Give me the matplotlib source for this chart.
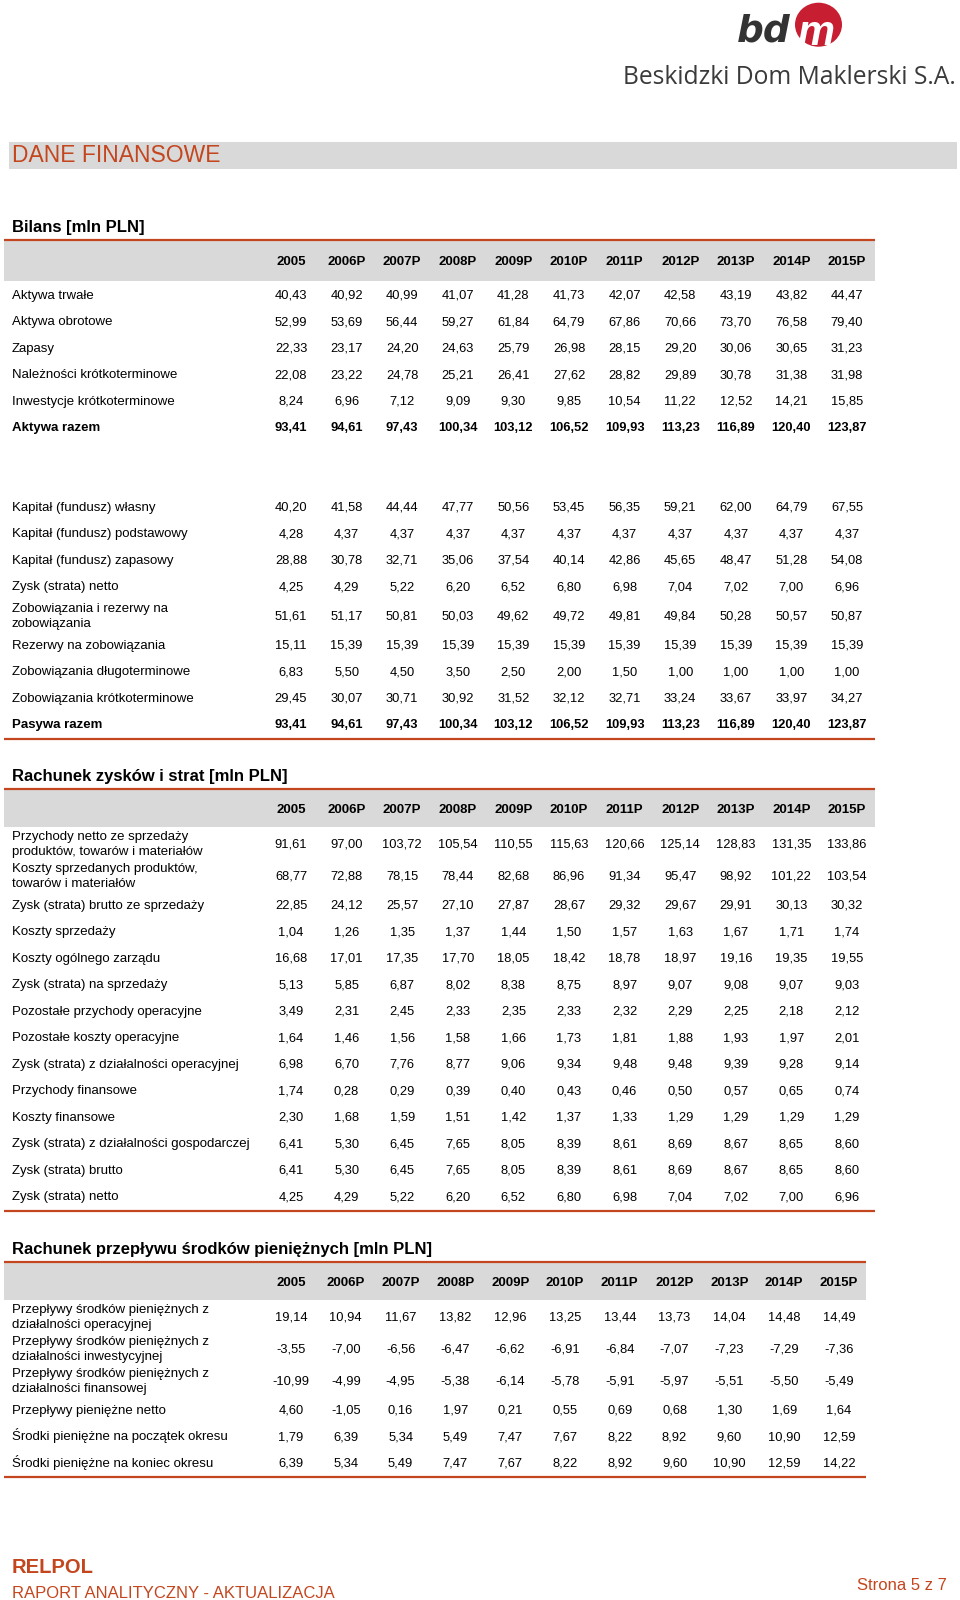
import matplotlib
matplotlib.use("Agg")
import matplotlib.pyplot as plt
from matplotlib.patches import Rectangle, Ellipse

plt.rcParams["font.family"] = ["Liberation Sans", "DejaVu Sans"]

ORANGE = "#c4461e"
GREY = "#d9d9d9"

# --- dane ---
years = ["2005", "2006P", "2007P", "2008P", "2009P", "2010P",
         "2011P", "2012P", "2013P", "2014P", "2015P"]

bilans_labels = [
    "Aktywa trwałe", "Aktywa obrotowe", "Zapasy", "Należności krótkoterminowe",
    "Inwestycje krótkoterminowe", "Aktywa razem", "", "",
    "Kapitał (fundusz) własny", "Kapitał (fundusz) podstawowy",
    "Kapitał (fundusz) zapasowy", "Zysk (strata) netto",
    "Zobowiązania i rezerwy na\nzobowiązania", "Rezerwy na zobowiązania",
    "Zobowiązania długoterminowe", "Zobowiązania krótkoterminowe", "Pasywa razem",
]
bilans_values = [
    [40.43, 40.92, 40.99, 41.07, 41.28, 41.73, 42.07, 42.58, 43.19, 43.82, 44.47],
    [52.99, 53.69, 56.44, 59.27, 61.84, 64.79, 67.86, 70.66, 73.70, 76.58, 79.40],
    [22.33, 23.17, 24.20, 24.63, 25.79, 26.98, 28.15, 29.20, 30.06, 30.65, 31.23],
    [22.08, 23.22, 24.78, 25.21, 26.41, 27.62, 28.82, 29.89, 30.78, 31.38, 31.98],
    [8.24, 6.96, 7.12, 9.09, 9.30, 9.85, 10.54, 11.22, 12.52, 14.21, 15.85],
    [93.41, 94.61, 97.43, 100.34, 103.12, 106.52, 109.93, 113.23, 116.89, 120.40, 123.87],
    None,
    None,
    [40.20, 41.58, 44.44, 47.77, 50.56, 53.45, 56.35, 59.21, 62.00, 64.79, 67.55],
    [4.28, 4.37, 4.37, 4.37, 4.37, 4.37, 4.37, 4.37, 4.37, 4.37, 4.37],
    [28.88, 30.78, 32.71, 35.06, 37.54, 40.14, 42.86, 45.65, 48.47, 51.28, 54.08],
    [4.25, 4.29, 5.22, 6.20, 6.52, 6.80, 6.98, 7.04, 7.02, 7.00, 6.96],
    [51.61, 51.17, 50.81, 50.03, 49.62, 49.72, 49.81, 49.84, 50.28, 50.57, 50.87],
    [15.11, 15.39, 15.39, 15.39, 15.39, 15.39, 15.39, 15.39, 15.39, 15.39, 15.39],
    [6.83, 5.50, 4.50, 3.50, 2.50, 2.00, 1.50, 1.00, 1.00, 1.00, 1.00],
    [29.45, 30.07, 30.71, 30.92, 31.52, 32.12, 32.71, 33.24, 33.67, 33.97, 34.27],
    [93.41, 94.61, 97.43, 100.34, 103.12, 106.52, 109.93, 113.23, 116.89, 120.40, 123.87],
]
bilans_bold = ["Aktywa razem", "Pasywa razem"]

rzis_labels = [
    "Przychody netto ze sprzedaży\nproduktów, towarów i materiałów",
    "Koszty sprzedanych produktów,\ntowarów i materiałów",
    "Zysk (strata) brutto ze sprzedaży", "Koszty sprzedaży",
    "Koszty ogólnego zarządu", "Zysk (strata) na sprzedaży",
    "Pozostałe przychody operacyjne", "Pozostałe koszty operacyjne",
    "Zysk (strata) z działalności operacyjnej", "Przychody finansowe",
    "Koszty finansowe", "Zysk (strata) z działalności gospodarczej",
    "Zysk (strata) brutto", "Zysk (strata) netto",
]
rzis_values = [
    [91.61, 97.00, 103.72, 105.54, 110.55, 115.63, 120.66, 125.14, 128.83, 131.35, 133.86],
    [68.77, 72.88, 78.15, 78.44, 82.68, 86.96, 91.34, 95.47, 98.92, 101.22, 103.54],
    [22.85, 24.12, 25.57, 27.10, 27.87, 28.67, 29.32, 29.67, 29.91, 30.13, 30.32],
    [1.04, 1.26, 1.35, 1.37, 1.44, 1.50, 1.57, 1.63, 1.67, 1.71, 1.74],
    [16.68, 17.01, 17.35, 17.70, 18.05, 18.42, 18.78, 18.97, 19.16, 19.35, 19.55],
    [5.13, 5.85, 6.87, 8.02, 8.38, 8.75, 8.97, 9.07, 9.08, 9.07, 9.03],
    [3.49, 2.31, 2.45, 2.33, 2.35, 2.33, 2.32, 2.29, 2.25, 2.18, 2.12],
    [1.64, 1.46, 1.56, 1.58, 1.66, 1.73, 1.81, 1.88, 1.93, 1.97, 2.01],
    [6.98, 6.70, 7.76, 8.77, 9.06, 9.34, 9.48, 9.48, 9.39, 9.28, 9.14],
    [1.74, 0.28, 0.29, 0.39, 0.40, 0.43, 0.46, 0.50, 0.57, 0.65, 0.74],
    [2.30, 1.68, 1.59, 1.51, 1.42, 1.37, 1.33, 1.29, 1.29, 1.29, 1.29],
    [6.41, 5.30, 6.45, 7.65, 8.05, 8.39, 8.61, 8.69, 8.67, 8.65, 8.60],
    [6.41, 5.30, 6.45, 7.65, 8.05, 8.39, 8.61, 8.69, 8.67, 8.65, 8.60],
    [4.25, 4.29, 5.22, 6.20, 6.52, 6.80, 6.98, 7.04, 7.02, 7.00, 6.96],
]

cf_labels = [
    "Przepływy środków pieniężnych z\ndziałalności operacyjnej",
    "Przepływy środków pieniężnych z\ndziałalności inwestycyjnej",
    "Przepływy środków pieniężnych z\ndziałalności finansowej",
    "Przepływy pieniężne netto",
    "Środki pieniężne na początek okresu",
    "Środki pieniężne na koniec okresu",
]
cf_values = [
    [19.14, 10.94, 11.67, 13.82, 12.96, 13.25, 13.44, 13.73, 14.04, 14.48, 14.49],
    [-3.55, -7.00, -6.56, -6.47, -6.62, -6.91, -6.84, -7.07, -7.23, -7.29, -7.36],
    [-10.99, -4.99, -4.95, -5.38, -6.14, -5.78, -5.91, -5.97, -5.51, -5.50, -5.49],
    [4.60, -1.05, 0.16, 1.97, 0.21, 0.55, 0.69, 0.68, 1.30, 1.69, 1.64],
    [1.79, 6.39, 5.34, 5.49, 7.47, 7.67, 8.22, 8.92, 9.60, 10.90, 12.59],
    [6.39, 5.34, 5.49, 7.47, 7.67, 8.22, 8.92, 9.60, 10.90, 12.59, 14.22],
]

# --- strona ---
fig = plt.figure(figsize=(9.6, 16), dpi=100)
ax = fig.add_axes([0, 0, 1, 1])
ax.set_xlim(0, 960)
ax.set_ylim(1600, 0)
ax.axis("off")


def fmt(v):
    return f"{v:.2f}".replace(".", ",")


def draw_table(title, labels, values, line_y, top, col0, step, right, bold=()):
    ax.text(12, line_y - 8.3, title, fontsize=12, fontweight="bold", va="baseline")
    ax.add_patch(Rectangle((4, line_y), right - 4, top - line_y, color=GREY, lw=0))
    ax.plot([4, right], [line_y, line_y], color=ORANGE, lw=1.6, solid_capstyle="butt")
    xs = [col0 + step * i for i in range(len(years))]
    hy = line_y + (top - line_y) / 2 + 4.7
    for x, yr in zip(xs, years):
        ax.text(x, hy, yr, fontsize=9.5, fontweight="bold", ha="center", va="baseline")
    y = top
    for lab, vals in zip(labels, values):
        h = 32 if "\n" in lab else 26.5
        c = y + h / 2
        w = "bold" if lab in bold else "normal"
        lines = lab.split("\n")
        offs = [0] if len(lines) == 1 else [-7.6, 7.6]
        for ln, o in zip(lines, offs):
            ax.text(12, c + o + 4.7, ln, fontsize=9.5, fontweight=w, va="baseline")
        if vals is not None:
            for x, v in zip(xs, vals):
                ax.text(x, c + 4.7, fmt(v), fontsize=9.3, fontweight=w,
                        ha="center", va="baseline")
        y += h
    ax.plot([4, right], [y + 1.5, y + 1.5], color=ORANGE, lw=1.6, solid_capstyle="butt")


# logo
ax.text(737, 42, "bd", fontsize=27, fontweight="bold", style="italic",
        family="DejaVu Sans", color="#333333", va="baseline")
ax.add_patch(Ellipse((818.5, 24.7), 47, 44, color="#c81e32", lw=0))
ax.text(816, 45, "m", fontsize=30, fontweight="bold", style="italic",
        color="white", ha="center", va="baseline")
ax.text(956, 84.5, "Beskidzki Dom Maklerski S.A.", fontsize=17.7, family="Open Sans",
        color="#3a3a3a", ha="right", va="baseline")

# naglowek
ax.add_patch(Rectangle((9, 142), 948, 27, color=GREY, lw=0))
ax.text(12, 155.5, "DANE FINANSOWE", fontsize=16.5, color=ORANGE, va="center")

draw_table("Bilans [mln PLN]", bilans_labels, bilans_values, 240, 281, 291, 55.6, 875,
           bold=bilans_bold)
draw_table("Rachunek zysków i strat [mln PLN]", rzis_labels, rzis_values, 789, 827,
           291, 55.6, 875)
draw_table("Rachunek przepływu środków pieniężnych [mln PLN]", cf_labels, cf_values,
           1262, 1300, 291, 54.8, 866)

# stopka
ax.text(12, 1573, "RELPOL", fontsize=14.5, fontweight="bold", color=ORANGE, va="baseline")
ax.text(12, 1598, "RAPORT ANALITYCZNY - AKTUALIZACJA", fontsize=12, color=ORANGE,
        va="baseline")
ax.text(947, 1590, "Strona 5 z 7", fontsize=12, color=ORANGE, ha="right", va="baseline")

fig.savefig("out.png", dpi=100)
